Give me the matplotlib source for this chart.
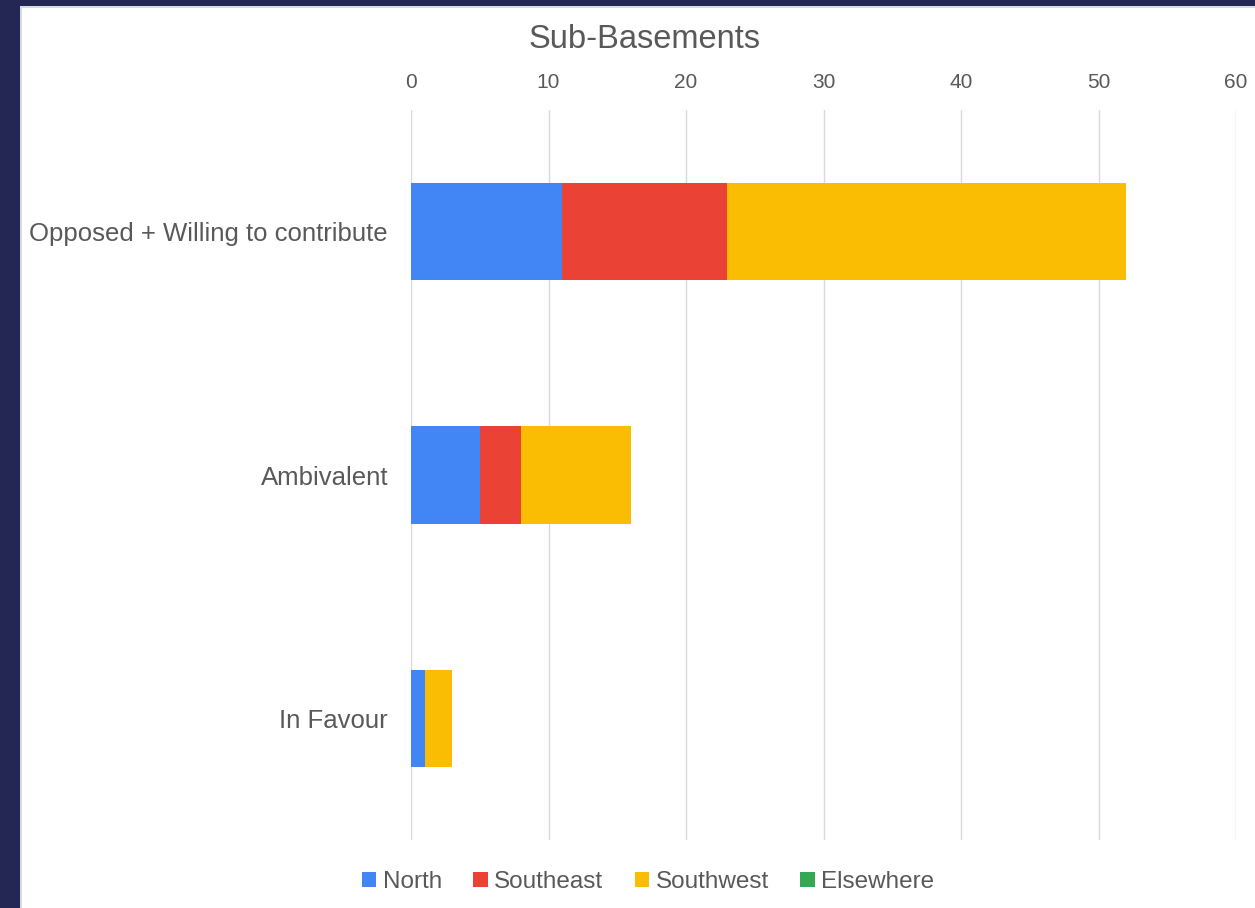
import matplotlib
matplotlib.use("Agg")
import matplotlib.pyplot as plt
import numpy as np
from matplotlib.patches import Rectangle

categories = ["Opposed + Willing to contribute", "Ambivalent", "In Favour"]
series_names = ["North", "Southeast", "Southwest", "Elsewhere"]
north = [11, 5, 1]
southeast = [12, 3, 0]
southwest = [29, 8, 2]
elsewhere = [0, 0, 0]
colors = ["#4285f4", "#ea4335", "#fbbc04", "#34a853"]
x_ticks = [0, 10, 20, 30, 40, 50, 60]

plt.rcParams["font.family"] = ["Liberation Sans", "DejaVu Sans"]
text_color = "#595959"

fig = plt.figure(figsize=(12.55, 9.08), dpi=100)
fig.patch.set_facecolor("#ffffff")

# dark frame strips on the left and top
fig.patches.append(Rectangle((0, 0), 20 / 1255, 1, transform=fig.transFigure,
                             facecolor="#242654", edgecolor="none", zorder=0))
fig.patches.append(Rectangle((0, 1 - 6 / 908), 1, 6 / 908, transform=fig.transFigure,
                             facecolor="#242654", edgecolor="none", zorder=0))
fig.patches.append(Rectangle((20 / 1255, 0), 2 / 1255, 1 - 6 / 908, transform=fig.transFigure,
                             facecolor="#d9d9e0", edgecolor="none", zorder=0))
fig.patches.append(Rectangle((20 / 1255, 1 - 8 / 908), 1, 2 / 908, transform=fig.transFigure,
                             facecolor="#d9d9e0", edgecolor="none", zorder=0))

ax = fig.add_axes([411 / 1255, 1 - 840 / 908, (1236 - 411) / 1255, (840 - 110) / 908])

y = np.arange(len(categories))
left = np.zeros(len(categories))
for name, vals, c in zip(series_names, [north, southeast, southwest, elsewhere], colors):
    ax.barh(y, vals, left=left, height=0.4, color=c, label=name, zorder=3)
    left = left + np.array(vals)

ax.set_xlim(0, 60)
ax.set_ylim(2.5, -0.5)
ax.set_xticks(x_ticks)
ax.xaxis.tick_top()
ax.tick_params(axis="x", length=0, pad=13, labelsize=15, labelcolor=text_color)
ax.set_yticks(y)
ax.set_yticklabels(categories)
ax.tick_params(axis="y", length=0, pad=16.5, labelsize=18.5, labelcolor=text_color)
ax.grid(axis="x", color="#d9d9d9", linewidth=1, zorder=0)
for s in ax.spines.values():
    s.set_visible(False)

fig.text(645 / 1255, 1 - 40 / 908, "Sub-Basements", ha="center", va="center",
         fontsize=23.5, color=text_color)

handles, labels = ax.get_legend_handles_labels()
fig.legend(handles, labels, loc="center", bbox_to_anchor=(648 / 1255, 1 - 882 / 908),
           ncol=4, frameon=False, fontsize=17.5, labelcolor=text_color,
           handlelength=0.6, handleheight=0.6, handletextpad=0.25, columnspacing=1.3)

fig.savefig("out.png", dpi=100)
